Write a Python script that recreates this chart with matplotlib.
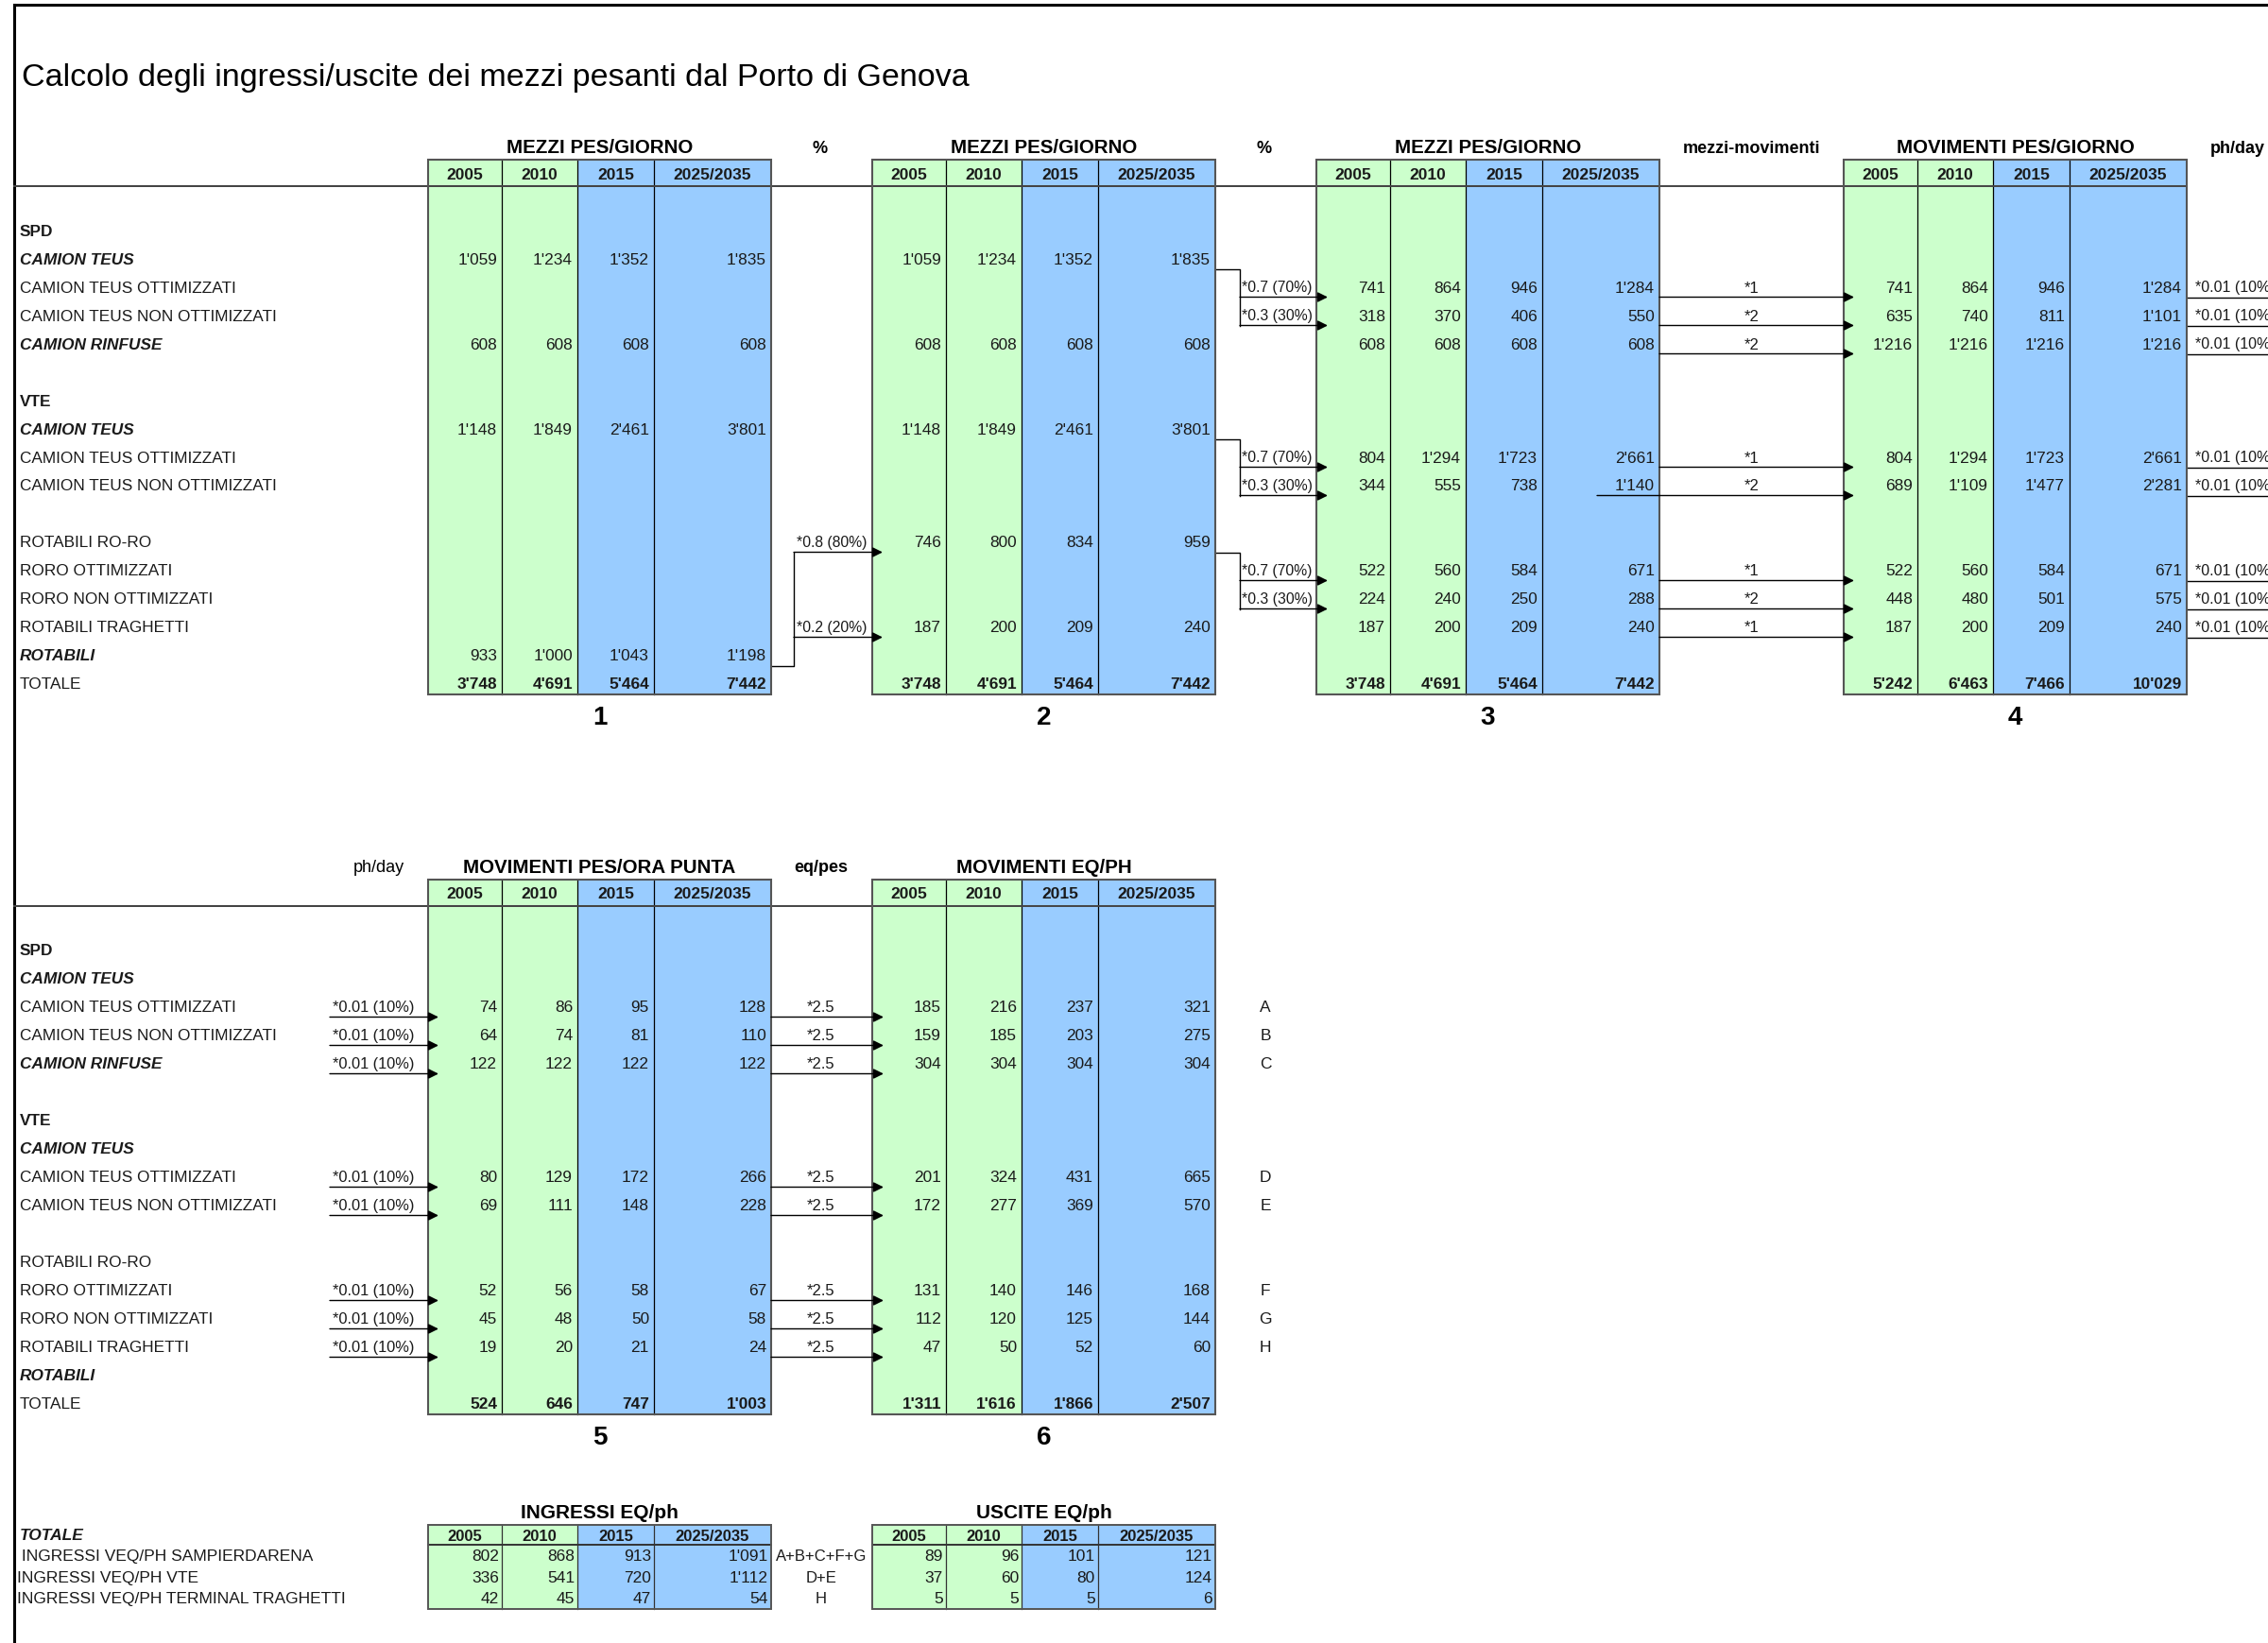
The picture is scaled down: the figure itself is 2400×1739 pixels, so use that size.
import matplotlib.pyplot as plt
from matplotlib import font_manager
from matplotlib.patches import Rectangle

plt.rcParams['font.family'] = ['Liberation Sans', 'DejaVu Sans']
_names = {f.name for f in font_manager.fontManager.ttflist}
NARROW = 'Liberation Sans Narrow' if 'Liberation Sans Narrow' in _names else 'Liberation Sans'

TITLE = "Calcolo degli ingressi/uscite dei mezzi pesanti dal Porto di Genova"
YEARS = ["2005", "2010", "2015", "2025/2035"]
YEAR_COLORS = ["#CCFFCC", "#CCFFCC", "#99CCFF", "#99CCFF"]

ROW_LABELS = ["SPD", "CAMION TEUS", "CAMION TEUS OTTIMIZZATI", "CAMION TEUS NON OTTIMIZZATI",
              "CAMION RINFUSE", "", "VTE", "CAMION TEUS", "CAMION TEUS OTTIMIZZATI",
              "CAMION TEUS NON OTTIMIZZATI", "", "ROTABILI RO-RO", "RORO OTTIMIZZATI",
              "RORO NON OTTIMIZZATI", "ROTABILI TRAGHETTI", "ROTABILI", "TOTALE"]
ROW_STYLES = ["b", "bi", "", "", "bi", "", "b", "bi", "", "", "", "", "", "", "", "bi", ""]
TOTAL_ROW = 16

# table 1: mezzi pesanti / giorno (input)
mezzi_1 = {1: [1059, 1234, 1352, 1835], 4: [608, 608, 608, 608],
           7: [1148, 1849, 2461, 3801], 15: [933, 1000, 1043, 1198],
           16: [3748, 4691, 5464, 7442]}
# table 2: rotabili split ro-ro / traghetti
mezzi_2 = {1: [1059, 1234, 1352, 1835], 4: [608, 608, 608, 608],
           7: [1148, 1849, 2461, 3801], 11: [746, 800, 834, 959],
           14: [187, 200, 209, 240], 16: [3748, 4691, 5464, 7442]}
# table 3: ottimizzati / non ottimizzati
mezzi_3 = {2: [741, 864, 946, 1284], 3: [318, 370, 406, 550], 4: [608, 608, 608, 608],
           8: [804, 1294, 1723, 2661], 9: [344, 555, 738, 1140],
           12: [522, 560, 584, 671], 13: [224, 240, 250, 288], 14: [187, 200, 209, 240],
           16: [3748, 4691, 5464, 7442]}
# table 4: movimenti / giorno
movimenti_4 = {2: [741, 864, 946, 1284], 3: [635, 740, 811, 1101], 4: [1216, 1216, 1216, 1216],
               8: [804, 1294, 1723, 2661], 9: [689, 1109, 1477, 2281],
               12: [522, 560, 584, 671], 13: [448, 480, 501, 575], 14: [187, 200, 209, 240],
               16: [5242, 6463, 7466, 10029]}
# table 5: movimenti ora di punta
punta_5 = {2: [74, 86, 95, 128], 3: [64, 74, 81, 110], 4: [122, 122, 122, 122],
           8: [80, 129, 172, 266], 9: [69, 111, 148, 228],
           12: [52, 56, 58, 67], 13: [45, 48, 50, 58], 14: [19, 20, 21, 24],
           16: [524, 646, 747, 1003]}
# table 6: veicoli equivalenti / ora di punta
eq_6 = {2: [185, 216, 237, 321], 3: [159, 185, 203, 275], 4: [304, 304, 304, 304],
        8: [201, 324, 431, 665], 9: [172, 277, 369, 570],
        12: [131, 140, 146, 168], 13: [112, 120, 125, 144], 14: [47, 50, 52, 60],
        16: [1311, 1616, 1866, 2507]}

SPLIT_SRC = [1, 7, 11]
SPLIT_PCT = ["*0.7 (70%)", "*0.3 (30%)"]
ROTABILI_PCT = ["*0.8 (80%)", "*0.2 (20%)"]
MOV_ROWS = [2, 3, 4, 8, 9, 12, 13, 14]
MOV_FACTORS = ["*1", "*2", "*2", "*1", "*2", "*1", "*2", "*1"]
PEAK_FACTOR = "*0.01 (10%)"
EQ_FACTOR = "*2.5"
EQ_LETTERS = ["A", "B", "C", "D", "E", "F", "G", "H"]

SUM_LABELS = [" INGRESSI VEQ/PH SAMPIERDARENA", "INGRESSI VEQ/PH VTE",
              "INGRESSI VEQ/PH TERMINAL TRAGHETTI"]
SUM_FORMULAS = ["A+B+C+F+G", "D+E", "H"]
ingressi = [[802, 868, 913, 1091], [336, 541, 720, 1112], [42, 45, 47, 54]]
uscite = [[89, 96, 101, 121], [37, 60, 80, 124], [5, 5, 5, 6]]

# layout (pixels)
ROW_H = 30
TOP0 = 245
BOT0 = 1007
COL_EDGES = [0, 78, 158, 239, 363]
X1, X2, X3, X4 = 453, 923, 1393, 1951
LINE_OFF = 10.5
TXT = '#1a1a1a'
FS = 12.4
SMALL = [NARROW, 'DejaVu Sans']


def fmt(v):
    return f"{v:,}".replace(",", "'")


def row_y(row0, r):
    return row0 + r * ROW_H


def draw_table(ax, x0, row0, title, values, number):
    hb = row0 - 47
    ht = hb - 28
    bottom = row_y(row0, TOTAL_ROW) + 11
    for c in range(4):
        ax.add_patch(Rectangle((x0 + COL_EDGES[c], ht), COL_EDGES[c + 1] - COL_EDGES[c],
                               bottom - ht, facecolor=YEAR_COLORS[c], edgecolor='none', zorder=1))
        ax.text(x0 + (COL_EDGES[c] + COL_EDGES[c + 1]) / 2, (ht + hb) / 2 + 1, YEARS[c],
                ha='center', va='center', fontsize=12.5, fontweight='bold', color=TXT, zorder=5)
    for c in range(1, 4):
        ax.plot([x0 + COL_EDGES[c]] * 2, [ht, bottom], color='black', lw=0.9, zorder=2)
    ax.plot([15, x0 + COL_EDGES[-1]], [hb, hb], color='#444444', lw=1.4, zorder=2)
    ax.add_patch(Rectangle((x0, ht), COL_EDGES[-1], bottom - ht, facecolor='none',
                           edgecolor='#555555', lw=1.5, zorder=3))
    ax.text(x0 + COL_EDGES[-1] / 2, ht - 13, title, ha='center', va='center',
            fontsize=14.8, fontweight='bold', color='black')
    ax.text(x0 + COL_EDGES[-1] / 2, bottom + 24, str(number), ha='center', va='center',
            fontsize=20, fontweight='bold', color='black')
    for r, vals in values.items():
        for c, v in enumerate(vals):
            ax.text(x0 + COL_EDGES[c + 1] - 5, row_y(row0, r), fmt(v), ha='right', va='center',
                    fontsize=FS, color=TXT, fontweight='bold' if r == TOTAL_ROW else 'normal',
                    zorder=5)


def draw_row_labels(ax, row0):
    for r, (lab, st) in enumerate(zip(ROW_LABELS, ROW_STYLES)):
        ax.text(21, row_y(row0, r), lab, ha='left', va='center', fontsize=FS, color=TXT,
                fontweight='bold' if 'b' in st else 'normal',
                fontstyle='italic' if 'i' in st else 'normal')


def arrow(ax, x1, x2, y):
    ax.annotate('', xy=(x2, y), xytext=(x1, y),
                arrowprops=dict(arrowstyle='-|>', color='black', lw=1.0,
                                mutation_scale=16, shrinkA=0, shrinkB=0), zorder=6)


def draw_small_table(ax, x0, title, values):
    ht, hb = 1615, 1636
    ys = [1648, 1670.5, 1693]
    bottom = 1704
    for c in range(4):
        ax.add_patch(Rectangle((x0 + COL_EDGES[c], ht), COL_EDGES[c + 1] - COL_EDGES[c],
                               bottom - ht, facecolor=YEAR_COLORS[c], edgecolor='none', zorder=1))
        ax.text(x0 + (COL_EDGES[c] + COL_EDGES[c + 1]) / 2, (ht + hb) / 2 + 1, YEARS[c],
                ha='center', va='center', fontsize=12, fontweight='bold', color=TXT,
                family=SMALL, zorder=5)
    for c in range(1, 4):
        ax.plot([x0 + COL_EDGES[c]] * 2, [ht, bottom], color='#333333', lw=0.9, zorder=2)
    ax.plot([x0, x0 + COL_EDGES[-1]], [hb, hb], color='#333333', lw=1.4, zorder=2)
    ax.add_patch(Rectangle((x0, ht), COL_EDGES[-1], bottom - ht, facecolor='none',
                           edgecolor='#555555', lw=1.4, zorder=3))
    ax.text(x0 + COL_EDGES[-1] / 2, ht - 13, title, ha='center', va='center', fontsize=15,
            fontweight='bold', color='black', family=SMALL)
    for y, vals in zip(ys, values):
        for c, v in enumerate(vals):
            ax.text(x0 + COL_EDGES[c + 1] - 3, y, fmt(v), ha='right', va='center', fontsize=12.5,
                    color=TXT, family=SMALL, zorder=5)


fig = plt.figure(figsize=(24, 17.4), dpi=100)
ax = fig.add_axes([0, 0, 1, 1])
ax.set_xlim(0, 2400)
ax.set_ylim(1740, 0)
ax.axis('off')

# frame and title
ax.plot([15, 2400], [6, 6], color='black', lw=2.2)
ax.plot([15, 15], [6, 1740], color='black', lw=2.2)
ax.text(23, 82, TITLE, ha='left', va='center', fontsize=24.5, color='black')

# ---- upper block
draw_row_labels(ax, TOP0)
draw_table(ax, X1, TOP0, "MEZZI PES/GIORNO", mezzi_1, 1)
draw_table(ax, X2, TOP0, "MEZZI PES/GIORNO", mezzi_2, 2)
draw_table(ax, X3, TOP0, "MEZZI PES/GIORNO", mezzi_3, 3)
draw_table(ax, X4, TOP0, "MOVIMENTI PES/GIORNO", movimenti_4, 4)
hdr_y = TOP0 - 47 - 28 - 13
ax.text(868, hdr_y, "%", ha='center', va='center', fontsize=13, fontweight='bold')
ax.text(1338, hdr_y, "%", ha='center', va='center', fontsize=13, fontweight='bold')
ax.text(1854, hdr_y, "mezzi-movimenti", ha='center', va='center', fontsize=13, fontweight='bold')
ax.text(2368, hdr_y, "ph/day", ha='center', va='center', fontsize=13, fontweight='bold')

# table 1 -> table 2 (rotabili)
xr1 = X1 + COL_EDGES[-1]
y_rot = row_y(TOP0, 15) + LINE_OFF
y_a = row_y(TOP0, 11) + LINE_OFF
ax.plot([xr1, 840, 840], [y_rot, y_rot, y_a], color='black', lw=1.0)
for r, lab in zip([11, 14], ROTABILI_PCT):
    arrow(ax, 840, X2 + 11, row_y(TOP0, r) + LINE_OFF)
    ax.text(843, row_y(TOP0, r), lab, ha='left', va='center', fontsize=11.3, color=TXT)

# table 2 -> table 3 (ottimizzati)
xr2 = X2 + COL_EDGES[-1]
for src in SPLIT_SRC:
    y0 = row_y(TOP0, src) + LINE_OFF
    y2 = row_y(TOP0, src + 2) + LINE_OFF
    ax.plot([xr2, 1312, 1312], [y0, y0, y2], color='black', lw=1.0)
    for k, lab in enumerate(SPLIT_PCT):
        arrow(ax, 1312, X3 + 12, row_y(TOP0, src + 1 + k) + LINE_OFF)
        ax.text(1314, row_y(TOP0, src + 1 + k), lab, ha='left', va='center', fontsize=11.3,
                color=TXT)

# table 3 -> table 4 and table 4 -> peak hour
xr3 = X3 + COL_EDGES[-1]
xr4 = X4 + COL_EDGES[-1]
for r, f in zip(MOV_ROWS, MOV_FACTORS):
    y = row_y(TOP0, r) + LINE_OFF
    start = 1690 if r == 9 else xr3
    arrow(ax, start, X4 + 11, y)
    ax.text(1854, row_y(TOP0, r), f, ha='center', va='center', fontsize=12, color=TXT)
    ax.plot([xr4, 2400], [y, y], color='black', lw=1.0)
    ax.text(xr4 + 9, row_y(TOP0, r), PEAK_FACTOR, ha='left', va='center', fontsize=11.5,
            color=TXT, clip_on=True)

# ---- lower block
draw_row_labels(ax, BOT0)
draw_table(ax, X1, BOT0, "MOVIMENTI PES/ORA PUNTA", punta_5, 5)
draw_table(ax, X2, BOT0, "MOVIMENTI EQ/PH", eq_6, 6)
hdr_y2 = BOT0 - 47 - 28 - 13
ax.text(401, hdr_y2, "ph/day", ha='center', va='center', fontsize=13)
ax.text(869, hdr_y2, "eq/pes", ha='center', va='center', fontsize=13, fontweight='bold')

xr5 = X1 + COL_EDGES[-1]
for r, letter in zip(MOV_ROWS, EQ_LETTERS):
    y = row_y(BOT0, r) + LINE_OFF
    arrow(ax, 349, X1 + 11, y)
    ax.text(352, row_y(BOT0, r), PEAK_FACTOR, ha='left', va='center', fontsize=11.8, color=TXT)
    arrow(ax, xr5, X2 + 12, y)
    ax.text(869, row_y(BOT0, r), EQ_FACTOR, ha='center', va='center', fontsize=12, color=TXT)
    ax.text(1339, row_y(BOT0, r), letter, ha='center', va='center', fontsize=12.5, color=TXT)

# ---- summary tables
ax.text(21, 1625.5, "TOTALE", ha='left', va='center', fontsize=12.5, fontweight='bold',
        fontstyle='italic', color=TXT, family=SMALL)
for y, lab, form in zip([1648, 1670.5, 1693], SUM_LABELS, SUM_FORMULAS):
    ax.text(18, y, lab, ha='left', va='center', fontsize=12.5, color=TXT, family=SMALL)
    ax.text(869, y, form, ha='center', va='center', fontsize=12, color=TXT, family=SMALL)
draw_small_table(ax, X1, "INGRESSI EQ/ph", ingressi)
draw_small_table(ax, X2, "USCITE EQ/ph", uscite)

fig.savefig("out.png", dpi=100)
